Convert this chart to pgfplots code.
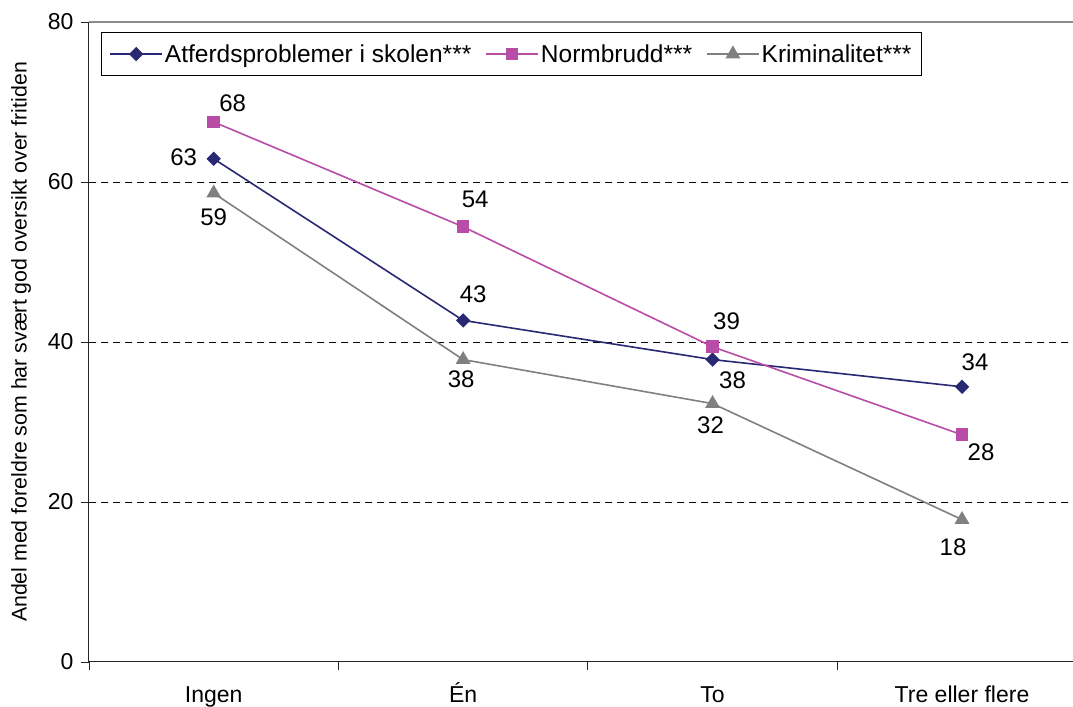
\documentclass[border=0pt]{standalone}
\usepackage{fontspec}
\setmainfont{Liberation Sans}
\usepackage{pgfplots}
\usepackage{pgfplotstable}
\pgfplotsset{compat=1.18}

\definecolor{atf}{RGB}{40,40,115}
\definecolor{norm}{RGB}{184,76,166}
\definecolor{krim}{RGB}{128,128,128}

% x = category index, lab = printed label, dx/dy = label offset in pt
\pgfplotstableread{
x y lab dx dy
0 62.9 63 -30 2
1 42.7 43 10 26
2 37.8 38 20 -21
3 34.4 34 13 25
}\atferd
\pgfplotstableread{
x y lab dx dy
0 67.5 68 19 19
1 54.4 54 12 27
2 39.4 39 14 26
3 28.4 28 19 -17
}\normbrudd
\pgfplotstableread{
x y lab dx dy
0 58.6 59 0 -24
1 37.8 38 -2 -20
2 32.3 32 -2 -22
3 17.8 18 -9 -28
}\krim

\pgfplotsset{labelled/.style={
  nodes near coords,
  point meta=explicit symbolic,
  visualization depends on={\thisrow{dx}\as\dx},
  visualization depends on={\thisrow{dy}\as\dy},
  nodes near coords style={anchor=center, text=black,
    font=\fontsize{24pt}{28pt}\selectfont, xshift=\dx pt, yshift=\dy pt},
}}

\begin{document}
\begin{tikzpicture}
\begin{axis}[
  scale only axis,
  width=984pt, height=640pt,
  xmin=-0.5, xmax=3.445,
  ymin=0, ymax=80,
  axis x line*=bottom,
  axis y line*=left,
  axis line style={-, black!85, line width=1pt},
  tick align=outside,
  major tick length=8pt,
  tick style={black!85, line width=0.8pt},
  ytick={0,20,40,60,80},
  xtick={-0.5,0.5,1.5,2.5},
  xticklabels={},
  extra x ticks={0,1,2,3},
  extra x tick labels={Ingen,Én,To,Tre eller flere},
  extra x tick style={major tick length=0pt,
    xticklabel style={yshift=-20pt, text height=17pt, text depth=0pt}},
  extra y ticks={20,40,60},
  extra y tick labels={},
  extra y tick style={major tick length=0pt, ymajorgrids=true},
  major grid style={black, line width=0.8pt, dash pattern=on 7pt off 5pt},
  ticklabel style={font=\fontsize{23pt}{27pt}\selectfont},
  yticklabel style={xshift=-4pt},
  /pgf/number format/assume math mode=true,
  ylabel={Andel med foreldre som har svært god oversikt over fritiden},
  ylabel style={font=\fontsize{21.3pt}{25pt}\selectfont},
  ylabel shift=2pt,
  legend columns=3,
  legend style={at={(rel axis cs:0,1)}, anchor=north west,
    xshift=12pt, yshift=-10pt, draw=black, line width=0.8pt,
    font=\fontsize{24.5pt}{28pt}\selectfont, inner xsep=8pt, inner ysep=10pt,
    /tikz/every even column/.append style={column sep=12pt}},
  legend image code/.code={
    \draw[mark repeat=2, mark phase=2, #1] plot coordinates {(0pt,0pt) (26pt,0pt) (52pt,0pt)};},
  clip=false,
]
\draw[black!45, line width=1.5pt] (rel axis cs:0,1) -- (rel axis cs:1,1);
\addplot[atf, line width=1.6pt, mark=square*, mark size=4.3pt,
  mark options={rotate=45, solid}, labelled] table[x=x, y=y, meta=lab] {\atferd};
\addlegendentry{Atferdsproblemer i skolen***}
\addplot[norm, line width=1.6pt, mark=square*, mark size=5.5pt,
  mark options={solid}, labelled] table[x=x, y=y, meta=lab] {\normbrudd};
\addlegendentry{Normbrudd***}
\addplot[krim, line width=1.6pt, mark=triangle*, mark size=7pt,
  mark options={solid}, labelled] table[x=x, y=y, meta=lab] {\krim};
\addlegendentry{Kriminalitet***}
\coordinate (ll) at (rel axis cs:0,0);
\coordinate (ur) at (rel axis cs:1,1);
\end{axis}
\pgfresetboundingbox
\path ([xshift=-89pt, yshift=-45pt]ll) rectangle ([yshift=22pt]ur);
\end{tikzpicture}
\end{document}
